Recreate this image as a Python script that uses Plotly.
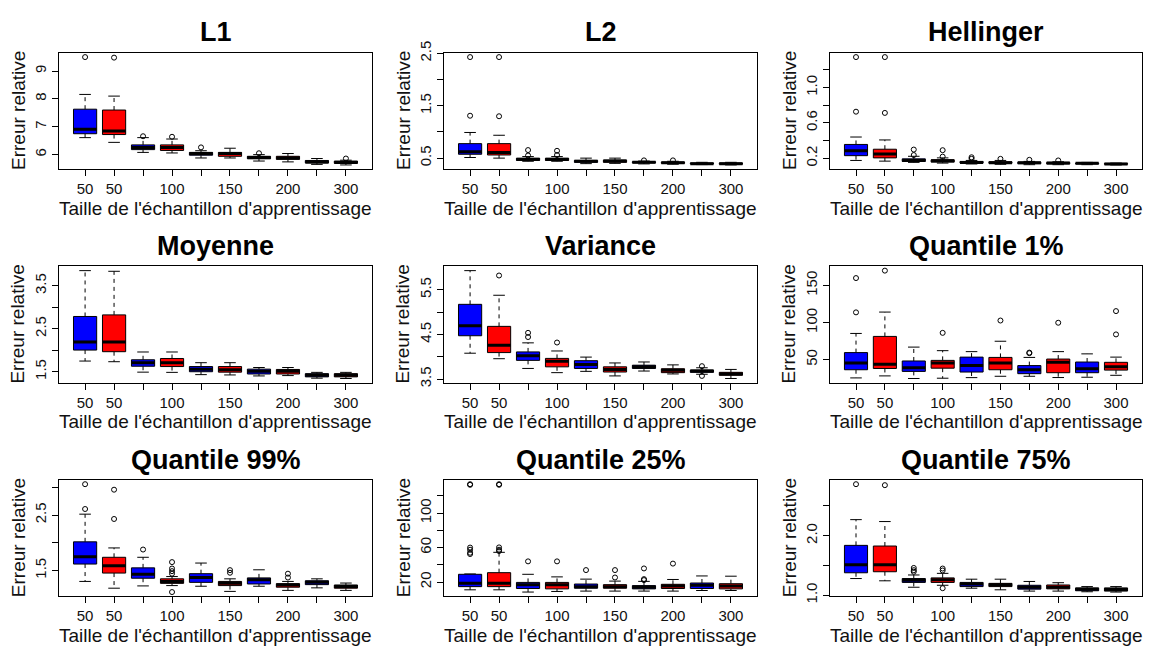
import plotly.graph_objects as go

# ---------------- data ----------------
CATEGORIES = ["50", "50", "100", "100", "150", "150", "200", "200", "300", "300"]
LABEL_SHOWN = [1, 1, 0, 1, 0, 1, 0, 1, 0, 1]
BOX_COLORS = ["#0000FF", "#FF0000"] * 5
X_TITLE = "Taille de l'échantillon d'apprentissage"
Y_TITLE = "Erreur relative"

# each box: [lower whisker, Q1, median, Q3, upper whisker]
L1_STATS = [[6.61, 6.75, 6.91, 7.63, 8.16], [6.44, 6.72, 6.85, 7.60, 8.10],
            [6.08, 6.18, 6.26, 6.35, 6.61], [6.06, 6.15, 6.26, 6.35, 6.56],
            [5.88, 5.98, 6.04, 6.08, 6.14], [5.88, 5.94, 6.04, 6.08, 6.23],
            [5.77, 5.85, 5.90, 5.94, 6.00], [5.74, 5.83, 5.88, 5.94, 6.04],
            [5.65, 5.70, 5.74, 5.79, 5.86], [5.63, 5.69, 5.72, 5.77, 5.80]]
L1_OUT = [[9.50], [9.48], [6.66], [6.64], [6.26], [], [6.05], [], [], [5.86]]
L1_YTICKS = [6, 7, 8, 9]
L1_YLABELS = ["6", "7", "8", "9"]

L2_STATS = [[0.512, 0.574, 0.623, 0.777, 0.99], [0.50, 0.56, 0.61, 0.777, 0.937],
            [0.44, 0.457, 0.475, 0.50, 0.53], [0.44, 0.457, 0.475, 0.50, 0.53],
            [0.395, 0.42, 0.44, 0.457, 0.50], [0.40, 0.42, 0.445, 0.463, 0.50],
            [0.39, 0.408, 0.42, 0.432, 0.445], [0.383, 0.40, 0.414, 0.426, 0.44],
            [0.377, 0.389, 0.395, 0.408, 0.42], [0.37, 0.383, 0.395, 0.408, 0.42]]
L2_OUT = [[2.43, 1.31], [2.43, 1.30], [0.654, 0.55], [0.64, 0.56], [], [], [0.457], [0.457], [], []]
L2_YTICKS = [0.5, 1.0, 1.5, 2.0, 2.5]
L2_YLABELS = ["0.5", "", "1.5", "", "2.5"]

HEL_STATS = [[0.175, 0.229, 0.284, 0.356, 0.44], [0.167, 0.204, 0.247, 0.302, 0.407],
             [0.153, 0.164, 0.175, 0.193, 0.222], [0.145, 0.156, 0.171, 0.182, 0.204],
             [0.135, 0.145, 0.153, 0.164, 0.175], [0.131, 0.142, 0.149, 0.16, 0.175],
             [0.127, 0.138, 0.149, 0.156, 0.164], [0.127, 0.135, 0.145, 0.153, 0.16],
             [0.127, 0.135, 0.142, 0.145, 0.153], [0.124, 0.131, 0.135, 0.142, 0.145]]
HEL_OUT = [[1.345, 0.727], [1.345, 0.713], [0.298, 0.236], [0.291, 0.218], [0.211, 0.193],
           [0.193], [0.182], [0.175], [], []]
HEL_YTICKS = [0.2, 0.4, 0.6, 0.8, 1.0, 1.2]
HEL_YLABELS = ["0.2", "", "0.6", "", "1.0", ""]

MOY_STATS = [[1.748, 2.004, 2.19, 2.786, 3.853], [1.733, 1.966, 2.19, 2.823, 3.838],
             [1.49, 1.628, 1.71, 1.778, 1.959], [1.485, 1.62, 1.71, 1.808, 1.959],
             [1.432, 1.5, 1.56, 1.62, 1.71], [1.425, 1.49, 1.545, 1.62, 1.71],
             [1.402, 1.447, 1.508, 1.56, 1.598], [1.41, 1.447, 1.508, 1.553, 1.598],
             [1.35, 1.38, 1.417, 1.455, 1.485], [1.342, 1.38, 1.417, 1.455, 1.485]]
MOY_OUT = [[], [], [], [], [], [], [], [], [], []]
MOY_YTICKS = [1.5, 2.0, 2.5, 3.0, 3.5]
MOY_YLABELS = ["1.5", "", "2.5", "", "3.5"]

VAR_STATS = [[4.08, 4.471, 4.696, 5.174, 5.928], [3.957, 4.094, 4.261, 4.681, 5.377],
             [3.739, 3.92, 4.022, 4.109, 4.312], [3.645, 3.775, 3.899, 3.964, 4.13],
             [3.674, 3.739, 3.826, 3.913, 3.993], [3.572, 3.659, 3.717, 3.775, 3.862],
             [3.681, 3.739, 3.775, 3.812, 3.884], [3.616, 3.645, 3.696, 3.732, 3.819],
             [3.609, 3.652, 3.681, 3.703, 3.754], [3.514, 3.587, 3.616, 3.652, 3.717]]
VAR_OUT = [[], [5.819], [4.536, 4.442], [4.319], [], [], [], [], [3.79, 3.572], []]
VAR_YTICKS = [3.5, 4.0, 4.5, 5.0, 5.5]
VAR_YLABELS = ["3.5", "", "4.5", "", "5.5"]

Q01_STATS = [[25.5, 36.5, 45.6, 59.6, 85.4], [28.2, 38.2, 43.9, 81.4, 114.2],
             [24.7, 34.3, 39.1, 48.3, 67.0], [25.1, 38.6, 45.6, 49.1, 62.2],
             [25.9, 33.4, 42.1, 53.5, 60.9], [27.7, 36.5, 45.6, 53.1, 74.9],
             [27.7, 31.2, 36.5, 42.1, 53.1], [26.0, 32.5, 46.5, 50.9, 60.9],
             [26.4, 32.5, 37.8, 46.9, 57.9], [29.0, 36.0, 40.4, 46.5, 53.5]]
Q01_OUT = [[160, 113.8], [170], [], [86.2], [], [102.8], [59.6, 58.8], [99.8], [], [115.5, 84.1]]
Q01_YTICKS = [50, 100, 150]
Q01_YLABELS = ["50", "100", "150"]

Q99_STATS = [[1.302, 1.616, 1.75, 2.017, 2.517], [1.18, 1.453, 1.587, 1.738, 1.907],
             [1.221, 1.36, 1.43, 1.547, 1.738], [1.227, 1.267, 1.302, 1.349, 1.39],
             [1.215, 1.285, 1.372, 1.442, 1.634], [1.122, 1.227, 1.267, 1.302, 1.349],
             [1.215, 1.256, 1.331, 1.366, 1.512], [1.14, 1.198, 1.238, 1.262, 1.302],
             [1.186, 1.244, 1.285, 1.314, 1.349], [1.14, 1.18, 1.209, 1.238, 1.273]]
Q99_OUT = [[3.058, 2.61], [2.959, 2.43], [1.878], [1.651, 1.535, 1.488, 1.442, 1.11], [],
           [1.506, 1.459], [], [1.442, 1.372], [], []]
Q99_YTICKS = [1.5, 2.0, 2.5, 3.0]
Q99_YLABELS = ["1.5", "", "2.5", ""]

Q25_STATS = [[11.0, 14.7, 18.5, 29.0, 29.4], [11.0, 14.7, 18.5, 30.9, 54.5],
             [8.4, 12.5, 17.0, 19.6, 29.0], [9.1, 12.1, 17.0, 19.6, 26.0],
             [9.5, 12.9, 14.7, 17.7, 23.4], [9.5, 12.9, 14.7, 17.0, 21.1],
             [9.5, 12.1, 14.0, 15.9, 20.8], [9.5, 12.5, 15.5, 17.4, 23.0],
             [10.2, 12.5, 16.2, 18.9, 27.1], [10.2, 12.1, 15.5, 18.1, 26.8]]
Q25_OUT = [[133.5, 132.8, 60.0, 57.5, 54.0, 52.5], [133.5, 132.8, 60.2, 57.5, 56.0],
           [44.0], [44.0], [33.9], [33.9, 25.3], [35.8, 23.4, 22.3], [41.4], [], []]
Q25_YTICKS = [20, 40, 60, 80, 100, 120]
Q25_YLABELS = ["20", "", "60", "", "100", ""]

Q75_STATS = [[1.281, 1.378, 1.514, 1.838, 2.27], [1.243, 1.395, 1.514, 1.827, 2.238],
             [1.135, 1.216, 1.254, 1.281, 1.341], [1.168, 1.216, 1.259, 1.292, 1.368],
             [1.119, 1.146, 1.189, 1.216, 1.27], [1.092, 1.146, 1.178, 1.2, 1.27],
             [1.07, 1.103, 1.135, 1.168, 1.232], [1.07, 1.108, 1.135, 1.173, 1.211],
             [1.059, 1.076, 1.103, 1.124, 1.146], [1.054, 1.07, 1.097, 1.124, 1.146]]
Q75_OUT = [[2.865], [2.849], [1.459, 1.422, 1.395], [1.449, 1.416, 1.119], [], [], [], [], [], []]
Q75_YTICKS = [1.0, 1.5, 2.0, 2.5]
Q75_YLABELS = ["1.0", "", "2.0", ""]

PANELS = [
    ("L1", L1_STATS, L1_OUT, L1_YTICKS, L1_YLABELS),
    ("L2", L2_STATS, L2_OUT, L2_YTICKS, L2_YLABELS),
    ("Hellinger", HEL_STATS, HEL_OUT, HEL_YTICKS, HEL_YLABELS),
    ("Moyenne", MOY_STATS, MOY_OUT, MOY_YTICKS, MOY_YLABELS),
    ("Variance", VAR_STATS, VAR_OUT, VAR_YTICKS, VAR_YLABELS),
    ("Quantile 1%", Q01_STATS, Q01_OUT, Q01_YTICKS, Q01_YLABELS),
    ("Quantile 99%", Q99_STATS, Q99_OUT, Q99_YTICKS, Q99_YLABELS),
    ("Quantile 25%", Q25_STATS, Q25_OUT, Q25_YTICKS, Q25_YLABELS),
    ("Quantile 75%", Q75_STATS, Q75_OUT, Q75_YTICKS, Q75_YLABELS),
]

# ---------------- layout geometry (pixels) ----------------
W, H = 1153, 649
COL_L = [59, 444, 830]
COL_R = [372, 757, 1142]
ROW_T = [42, 262, 482]
ROW_B = [162, 382, 602]
FONT = "Liberation Sans, Arial, Helvetica, sans-serif"
BOX_HALF = 0.4
CAP_HALF = 0.2

fig = go.Figure()
annotations = []
layout_axes = {}

for k, (title, stats, outs, yticks, ylabels) in enumerate(PANELS):
    r, c = divmod(k, 3)
    n = k + 1
    xa, ya = ("x" if n == 1 else f"x{n}"), ("y" if n == 1 else f"y{n}")
    positions = list(range(1, len(stats) + 1))

    # whiskers (dashed)
    wx, wy = [], []
    for p, s in zip(positions, stats):
        wx += [p, p, None, p, p, None]
        wy += [s[3], s[4], None, s[1], s[0], None]
    fig.add_trace(go.Scatter(x=wx, y=wy, mode="lines", xaxis=xa, yaxis=ya,
                             line=dict(color="black", width=1, dash="4px,4px"),
                             hoverinfo="skip", showlegend=False))
    # caps
    cx, cy = [], []
    for p, s in zip(positions, stats):
        cx += [p - CAP_HALF, p + CAP_HALF, None, p - CAP_HALF, p + CAP_HALF, None]
        cy += [s[4], s[4], None, s[0], s[0], None]
    fig.add_trace(go.Scatter(x=cx, y=cy, mode="lines", xaxis=xa, yaxis=ya,
                             line=dict(color="black", width=1),
                             hoverinfo="skip", showlegend=False))
    # boxes by colour
    for col in ["#0000FF", "#FF0000"]:
        bx, by = [], []
        for p, s, bc in zip(positions, stats, BOX_COLORS):
            if bc != col:
                continue
            bx += [p - BOX_HALF, p + BOX_HALF, p + BOX_HALF, p - BOX_HALF, p - BOX_HALF, None]
            by += [s[1], s[1], s[3], s[3], s[1], None]
        fig.add_trace(go.Scatter(x=bx, y=by, mode="lines", fill="toself", fillcolor=col,
                                 xaxis=xa, yaxis=ya, line=dict(color="black", width=1),
                                 hoverinfo="skip", showlegend=False))
    # medians
    mx, my = [], []
    for p, s in zip(positions, stats):
        mx += [p - BOX_HALF, p + BOX_HALF, None]
        my += [s[2], s[2], None]
    fig.add_trace(go.Scatter(x=mx, y=my, mode="lines", xaxis=xa, yaxis=ya,
                             line=dict(color="black", width=3),
                             hoverinfo="skip", showlegend=False))
    # outliers
    ox, oy = [], []
    for p, o in zip(positions, outs):
        ox += [p] * len(o)
        oy += o
    fig.add_trace(go.Scatter(x=ox, y=oy, mode="markers", xaxis=xa, yaxis=ya,
                             marker=dict(symbol="circle-open", size=5, color="black",
                                         line=dict(width=1, color="black")),
                             hoverinfo="skip", showlegend=False))

    # axis ranges, R style (4% extension)
    allv = [v for s in stats for v in s] + [v for o in outs for v in o]
    lo, hi = min(allv), max(allv)
    sp = hi - lo
    yr = [lo - 0.04 * sp, hi + 0.04 * sp]
    nb = len(stats)
    xr = [0.5 - 0.04 * nb, nb + 0.5 + 0.04 * nb]

    xdom = [COL_L[c] / W, COL_R[c] / W]
    ydom = [1 - ROW_B[r] / H, 1 - ROW_T[r] / H]
    common = dict(showgrid=False, zeroline=False, showline=True, mirror=True,
                  linecolor="black", linewidth=1, ticks="outside", ticklen=6,
                  tickcolor="black", tickwidth=1,
                  tickfont=dict(family=FONT, size=15, color="#111"))
    layout_axes["xaxis" if n == 1 else f"xaxis{n}"] = dict(
        domain=xdom, range=xr, anchor=ya, tickmode="array", tickvals=positions,
        ticktext=[cat if sh else "" for cat, sh in zip(CATEGORIES, LABEL_SHOWN)], **common)
    layout_axes["yaxis" if n == 1 else f"yaxis{n}"] = dict(
        domain=ydom, range=yr, anchor=xa, tickmode="array", tickvals=yticks,
        ticktext=ylabels, tickangle=-90, **common)

    xc = (COL_L[c] + COL_R[c]) / 2
    yc = (ROW_T[r] + ROW_B[r]) / 2
    annotations.append(dict(text=f"<b>{title}</b>", x=xc / W, y=1 - (ROW_T[r] - 21) / H,
                            xref="paper", yref="paper", showarrow=False,
                            xanchor="center", yanchor="middle",
                            font=dict(family=FONT, size=27, color="black")))
    annotations.append(dict(text=X_TITLE, x=xc / W, y=1 - (ROW_B[r] + 40) / H,
                            xref="paper", yref="paper", showarrow=False,
                            xanchor="center", yanchor="middle",
                            font=dict(family=FONT, size=19, color="#111")))
    annotations.append(dict(text=Y_TITLE, x=(COL_L[c] - 41) / W, y=1 - yc / H,
                            xref="paper", yref="paper", showarrow=False, textangle=-90,
                            xanchor="center", yanchor="middle",
                            font=dict(family=FONT, size=19, color="#111")))

fig.update_layout(width=W, height=H, margin=dict(l=0, r=0, t=0, b=0),
                  paper_bgcolor="white", plot_bgcolor="white",
                  showlegend=False, annotations=annotations, **layout_axes)

fig.write_html("out.html", config={"displayModeBar": False},
               post_script="document.body.style.margin='0';document.body.style.overflow='hidden';")
